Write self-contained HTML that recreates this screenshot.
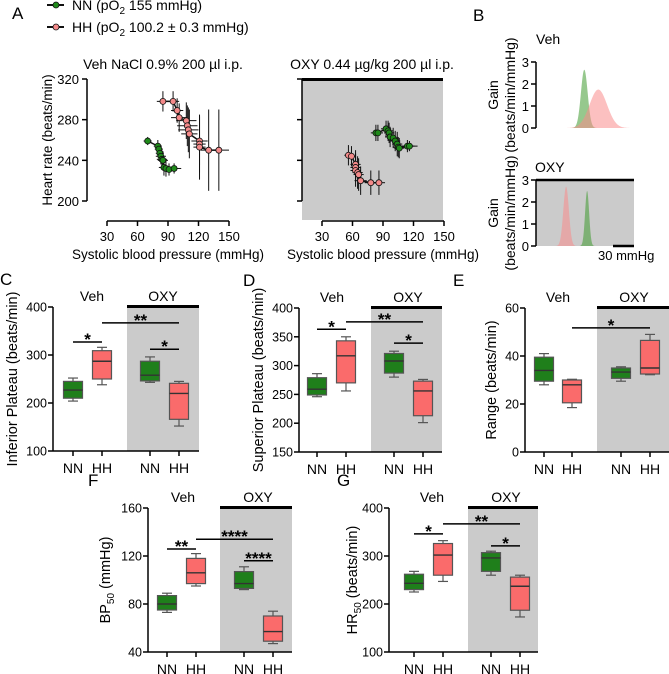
<!DOCTYPE html>
<html><head><meta charset="utf-8">
<style>
html,body{margin:0;padding:0;background:#fff;}
svg{display:block;font-family:"Liberation Sans",Arial,sans-serif;}
</style></head>
<body>
<svg id="fig" width="669" height="674" viewBox="0 0 669 674" xmlns="http://www.w3.org/2000/svg">
  <g id="legend">
    <g>
      <line x1="47" y1="5" x2="64" y2="5" stroke="#111" stroke-width="2"/>
      <circle cx="56" cy="5" r="3" fill="#1f8a1a" stroke="#111" stroke-width="0.8"/>
      <text x="72" y="10" font-size="14">NN (pO<tspan font-size="10" dy="4">2</tspan><tspan dy="-4"> 155 mmHg)</tspan></text>
    </g>
    <g>
      <line x1="47" y1="27" x2="64" y2="27" stroke="#111" stroke-width="2"/>
      <circle cx="56" cy="27" r="3" fill="#f48a8a" stroke="#111" stroke-width="0.8"/>
      <text x="72" y="32" font-size="14">HH (pO<tspan font-size="10" dy="4">2</tspan><tspan dy="-4"> 100.2 ± 0.3 mmHg)</tspan></text>
    </g>
  </g>
  <text x="12" y="19" font-size="17">A</text>
  <text x="473" y="21" font-size="17">B</text>
  <g id="gA"></g><g id="gB"></g><g id="gBox"></g>
</svg>
<script>
// ---------- Panel A data ----------
const aVehNN_x = [70,80,81,82,83,84,85,86,88,91,96];
const aVehNN_y = [259,254,251,247,244,241,240,233,232,231,232];
const aVehNN_ex = [4,4,4,4,5,5,5,5,5,5,7];
const aVehNN_ey = [4,6,6,8,8,9,9,8,8,6,5];
const aVehHH_x = [85,95,99,101,108,109,110,111,121,121,121,130,140];
const aVehHH_y = [298,298,289,282,279,274,270,266,259,256,253,250,250];
const aVehHH_ex = [6,6,6,8,10,10,10,8,8,6,6,8,10];
const aVehHH_ey = [10,10,12,14,18,20,22,24,24,28,32,40,40];
const aOxyNN_x = [83,85,93,95,96,97,100,102,104,105,106,114,116];
const aOxyNN_y = [267,267,271,269,267,263,262,259,256,253,252,254,254];
const aOxyNN_ex = [5,5,5,5,5,5,5,5,5,5,5,7,8];
const aOxyNN_ey = [8,8,8,10,10,10,10,10,12,10,10,6,5];
const aOxyHH_x = [56,59,63,63,63,65,66,68,78,86];
const aOxyHH_y = [245,244,236,233,230,228,226,220,218,218];
const aOxyHH_ex = [4,4,5,5,5,5,5,6,6,6];
const aOxyHH_ey = [10,10,14,14,16,16,16,14,12,12];
const aXTicks = [30,60,90,120,150];
const aYTicks = [200,240,280,320];

// ---------- Panel B data (gain curves: center mmHg, peak gain, sd mmHg) ----------
const bVehCenters = [89,109];
const bVehPeaks = [2.65,1.75];
const bVehSd = [4.8,12.5];
const bOxyCenters = [93,63];
const bOxyPeaks = [2.5,2.7];
const bOxySd = [2.9,4.0];
const bYTicks = [0,1,2,3];

// ---------- Box panels data: [min,q1,median,q3,max] for NN-Veh, HH-Veh, NN-OXY, HH-OXY ----------
const cBoxes = [[204,210,227,245,252],[238,250,287,309,316],[243,246,258,287,296],[152,166,220,241,245]];
const cTicks = [100,200,300,400];
const cSig = [[0,1,327,'*'],[1,3,367,'**'],[2,3,312,'*']];
const dBoxes = [[246,249,259,279,286],[256,270,317,343,350],[280,287,308,321,325],[201,213,256,273,276]];
const dTicks = [150,200,250,300,350,400];
const dSig = [[0,1,363,'*'],[1,3,376,'**'],[2,3,339,'*']];
const eBoxes = [[28,29.5,34,39.5,41],[18.5,20.5,28,30,30.3],[29.5,30.7,33.3,35,35.5],[32.2,32.5,35,46.5,49]];
const eTicks = [0,20,40,60];
const eSig = [[1,3,51.7,'*']];
const fBoxes = [[73,75,80,87,89],[95,97,106,118,122],[92,93,97,107,111],[47,49,57,70,74]];
const fTicks = [40,80,120,160];
const fSig = [[0,1,125.8,'**'],[1,3,134,'****'],[2,3,116,'****']];
const gBoxes = [[225,230,243,262,268],[247,260,302,326,332],[260,268,296,307,310],[173,187,237,256,260]];
const gTicks = [100,200,300,400];
const gSig = [[0,1,346,'*'],[1,3,367,'**'],[2,3,321,'*']];
const groupLabels = ['NN','HH','NN','HH'];

const NS='http://www.w3.org/2000/svg';
function mk(tag, attrs, parent){const e=document.createElementNS(NS,tag);for(const k in attrs)e.setAttribute(k,attrs[k]);parent.appendChild(e);return e;}
const GREEN='#1f7f1b', PINK='#fa6b6b', GRAY='#cbcbcb';

// ---------- Panel A ----------
const gA=document.getElementById('gA');
function scatterPanel(x0, title, titleX, showYLabels, shaded, sets, name){
  const g=mk('g',{},gA);
  
  
  const xs=v=>x0+20+(v-30)*122/120;
  const ys=v=>201-(v-200)*122/120;
  if(shaded){
    const r=mk('rect',{x:x0,y:79,width:443-x0,height:141,fill:GRAY},g);
    
    
    mk('line',{x1:x0,y1:79.5,x2:443,y2:79.5,stroke:'#000','stroke-width':3},g);
  }
  const t=mk('text',{x:titleX,y:69,'font-size':14,'text-anchor':'middle'},g);t.textContent=title;
  
  
  mk('line',{x1:x0,y1:ys(320),x2:x0,y2:ys(200),stroke:'#000','stroke-width':1.5},g);
  aYTicks.forEach(v=>{mk('line',{x1:x0-5,y1:ys(v),x2:x0,y2:ys(v),stroke:'#000','stroke-width':1.5},g);
    if(showYLabels){const l=mk('text',{x:x0-8,y:ys(v)+5,'font-size':13,'text-anchor':'end'},g);l.textContent=v;
      
      }});
  mk('line',{x1:xs(30),y1:221,x2:xs(150),y2:221,stroke:'#000','stroke-width':1.5},g);
  aXTicks.forEach(v=>{mk('line',{x1:xs(v),y1:221,x2:xs(v),y2:226,stroke:'#000','stroke-width':1.5},g);
    const l=mk('text',{x:xs(v),y:241,'font-size':13,'text-anchor':'middle'},g);l.textContent=v;
    
    });
  const xt=mk('text',{x:(xs(30)+xs(150))/2,y:259,'font-size':13.5,'text-anchor':'middle'},g);xt.textContent='Systolic blood pressure (mmHg)';
  
  
  sets.forEach(s=>{
    const sg=mk('g',{},g);
    
    
    s.x.forEach((v,i)=>{
      mk('line',{x1:xs(v-s.ex[i]),y1:ys(s.y[i]),x2:xs(v+s.ex[i]),y2:ys(s.y[i]),stroke:'#111','stroke-width':1},sg);
      mk('line',{x1:xs(v),y1:ys(s.y[i]-s.ey[i]),x2:xs(v),y2:ys(s.y[i]+s.ey[i]),stroke:'#111','stroke-width':1},sg);
    });
    mk('polyline',{points:s.x.map((v,i)=>xs(v)+','+ys(s.y[i])).join(' '),fill:'none',stroke:'#111','stroke-width':1.5},sg);
    s.x.forEach((v,i)=>{const c=mk('circle',{cx:xs(v),cy:ys(s.y[i]),r:3,fill:s.color,stroke:'#111','stroke-width':0.8},sg);
      
      });
  });
}
scatterPanel(87,'Veh NaCl 0.9% 200 µl i.p.',163,true,false,[
  {x:aVehNN_x,y:aVehNN_y,ex:aVehNN_ex,ey:aVehNN_ey,color:'#1f8a1a',name:'series-veh-nn'},
  {x:aVehHH_x,y:aVehHH_y,ex:aVehHH_ex,ey:aVehHH_ey,color:'#f48a8a',name:'series-veh-hh'}],'scatter-veh');
scatterPanel(302,'OXY 0.44 µg/kg 200 µl i.p.',372,false,true,[
  {x:aOxyNN_x,y:aOxyNN_y,ex:aOxyNN_ex,ey:aOxyNN_ey,color:'#1f8a1a',name:'series-oxy-nn'},
  {x:aOxyHH_x,y:aOxyHH_y,ex:aOxyHH_ex,ey:aOxyHH_ey,color:'#f48a8a',name:'series-oxy-hh'}],'scatter-oxy');
const ayt=mk('text',{x:0,y:0,'font-size':13.5,'text-anchor':'middle',transform:'translate(52,140) rotate(-90)'},gA);
ayt.textContent='Heart rate (beats/min)';



// ---------- Panel B ----------
const gB=document.getElementById('gB');
function gainPanel(y0, label, shaded, centers, peaks, sds, colors, name){
  const g=mk('g',{},gB);
  
  
  const ax=536, pxPerUnit=22, pxPerMm=0.7, bp0=20;
  const ys=v=>y0-v*pxPerUnit;
  const xs=bp=>ax+(bp-bp0)*pxPerMm;
  if(shaded){
    mk('rect',{x:ax,y:ys(3),width:98,height:3*pxPerUnit,fill:GRAY},g);
    mk('line',{x1:ax,y1:ys(3),x2:634,y2:ys(3),stroke:'#000','stroke-width':2.5},g);
  }
  const t=mk('text',{x:label==='Veh'?536:535,y:ys(3)-(label==='Veh'?18:8),'font-size':14},g);t.textContent=label;
  
  
  centers.forEach((c,i)=>{
    const pts=[];
    for(let bp=c-4*sds[i]; bp<=c+4*sds[i]; bp+=sds[i]/10){pts.push(xs(bp)+','+ys(peaks[i]*Math.exp(-0.5*((bp-c)/sds[i])**2)));}
    const p=mk('polygon',{points:pts.join(' '),fill:colors[i],opacity:0.55},g);
    
    
  });
  mk('line',{x1:ax,y1:ys(3),x2:ax,y2:ys(0),stroke:'#000','stroke-width':1.5},g);
  bYTicks.forEach(v=>{mk('line',{x1:ax-5,y1:ys(v),x2:ax,y2:ys(v),stroke:'#000','stroke-width':1.5},g);
    const l=mk('text',{x:ax-7,y:ys(v)+5,'font-size':13,'text-anchor':'end'},g);l.textContent=v;
    
    });
  const cy=ys(1.5);
  const yt=mk('text',{'font-size':14,'text-anchor':'middle',transform:`translate(498,${cy}) rotate(-90)`},g);yt.textContent='Gain';
  
  
  const yt2=mk('text',{'font-size':14,'text-anchor':'middle',transform:`translate(515,${cy}) rotate(-90)`},g);yt2.textContent='(beats/min/mmHg)';
  
  
}
gainPanel(128,'Veh',false,bVehCenters,bVehPeaks,bVehSd,['#3f9a2f','#fa8c8c'],'gain-veh');
gainPanel(246,'OXY',true,bOxyCenters,bOxyPeaks,bOxySd,['#3f9a2f','#fa8c8c'],'gain-oxy');
const sb=mk('line',{x1:613,y1:246,x2:634,y2:246,stroke:'#000','stroke-width':2.5},gB);


const sbt=mk('text',{x:598,y:260,'font-size':13},gB);sbt.textContent='30 mmHg';



// ---------- Box panels ----------
const gBox=document.getElementById('gBox');
function boxPanel(cfg, boxes, ticks, sigs){
  const g=mk('g',{},gBox);
  
  
  const vmin=ticks[0], vmax=ticks[ticks.length-1];
  const ys=v=>cfg.yb-(v-vmin)/(vmax-vmin)*(cfg.yb-cfg.yt);
  const sh=mk('rect',{x:cfg.gray[0],y:cfg.yt,width:cfg.gray[1]-cfg.gray[0],height:cfg.yb-cfg.yt,fill:GRAY},g);
  
  
  mk('line',{x1:cfg.gray[0],y1:cfg.yt-0.5,x2:cfg.gray[1],y2:cfg.yt-0.5,stroke:'#000','stroke-width':3},g);
  const L=mk('text',{x:cfg.lx,y:cfg.yt-22,'font-size':17},g);L.textContent=cfg.letter;
  
  
  [['Veh',cfg.veh],['OXY',cfg.oxy]].forEach(([s,x])=>{const t=mk('text',{x:x,y:cfg.yt-6,'font-size':14,'text-anchor':'middle'},g);t.textContent=s;
    
    });
  mk('line',{x1:cfg.ax,y1:cfg.yt,x2:cfg.ax,y2:cfg.yb,stroke:'#000','stroke-width':1.5},g);
  mk('line',{x1:cfg.ax,y1:cfg.yb,x2:cfg.gray[1],y2:cfg.yb,stroke:'#000','stroke-width':1.5},g);
  ticks.forEach(v=>{mk('line',{x1:cfg.ax-5,y1:ys(v),x2:cfg.ax,y2:ys(v),stroke:'#000','stroke-width':1.5},g);
    const l=mk('text',{x:cfg.ax-6,y:ys(v)+4.5,'font-size':12.5,'text-anchor':'end'},g);l.textContent=v;
    
    });
  cfg.xs.forEach((x,i)=>{mk('line',{x1:x,y1:cfg.yb,x2:x,y2:cfg.yb+5,stroke:'#000','stroke-width':1.5},g);
    const l=mk('text',{x:x,y:cfg.yb+22,'font-size':14,'text-anchor':'middle'},g);l.textContent=groupLabels[i];
    
    });
  const yt=mk('text',{'font-size':14.5,'text-anchor':'middle',transform:`translate(${cfg.ytx},${(cfg.yt+cfg.yb)/2}) rotate(-90)`},g);
  
  
  if(cfg.sub){yt.textContent=cfg.title[0];const ts=mk('tspan',{'font-size':10,dy:4},yt);ts.textContent=cfg.sub;const ts2=mk('tspan',{dy:-4},yt);ts2.textContent=cfg.title[1];}
  else yt.textContent=cfg.title;
  boxes.forEach((b,i)=>{
    const x=cfg.xs[i], w=19, col=i%2===0?GREEN:PINK;
    const bg=mk('g',{},g);
    
    
    mk('line',{x1:x,y1:ys(b[0]),x2:x,y2:ys(b[4]),stroke:'#555','stroke-width':1.2},bg);
    mk('line',{x1:x-5,y1:ys(b[0]),x2:x+5,y2:ys(b[0]),stroke:'#555','stroke-width':1.2},bg);
    mk('line',{x1:x-5,y1:ys(b[4]),x2:x+5,y2:ys(b[4]),stroke:'#555','stroke-width':1.2},bg);
    mk('rect',{x:x-w/2,y:ys(b[3]),width:w,height:ys(b[1])-ys(b[3]),fill:col,stroke:'#555','stroke-width':1.2},bg);
    mk('line',{x1:x-w/2,y1:ys(b[2]),x2:x+w/2,y2:ys(b[2]),stroke:'#333','stroke-width':1.4},bg);
  });
  sigs.forEach(s=>{
    const x1=cfg.xs[s[0]], x2=cfg.xs[s[1]], y=ys(s[2]);
    const sg=mk('g',{},g);
    
    
    mk('line',{x1:x1,y1:y,x2:x2,y2:y,stroke:'#000','stroke-width':1.5},sg);
    const t=mk('text',{x:(x1+x2)/2,y:y+3,'font-size':17,'font-weight':'bold','text-anchor':'middle'},sg);t.textContent=s[3];
  });
}
boxPanel({name:'panel-c',letter:'C',lx:0,ax:53,yt:307,yb:451,xs:[73,102,150,179],gray:[127,199],veh:92,oxy:163,ytx:17,title:'Inferior Plateau (beats/min)'},cBoxes,cTicks,cSig);
boxPanel({name:'panel-d',letter:'D',lx:243,ax:299,yt:308,yb:452,xs:[317,346,394,423],gray:[371,442],veh:332,oxy:408,ytx:263,title:'Superior Plateau (beats/min)'},dBoxes,dTicks,dSig);
boxPanel({name:'panel-e',letter:'E',lx:453,ax:525,yt:308,yb:452,xs:[544,572,621,650],gray:[597,669],veh:558,oxy:634,ytx:496,title:'Range (beats/min)'},eBoxes,eTicks,eSig);
boxPanel({name:'panel-f',letter:'F',lx:88,ax:148,yt:508,yb:652,xs:[167,196,244,273],gray:[220,292],veh:183,oxy:258,ytx:110,title:['BP',' (mmHg)'],sub:'50'},fBoxes,fTicks,fSig);
boxPanel({name:'panel-g',letter:'G',lx:337,ax:389,yt:508,yb:652,xs:[414,443,491,520],gray:[468,538],veh:432,oxy:506,ytx:357,title:['HR',' (beats/min)'],sub:'50'},gBoxes,gTicks,gSig);
</script>
</body></html>
